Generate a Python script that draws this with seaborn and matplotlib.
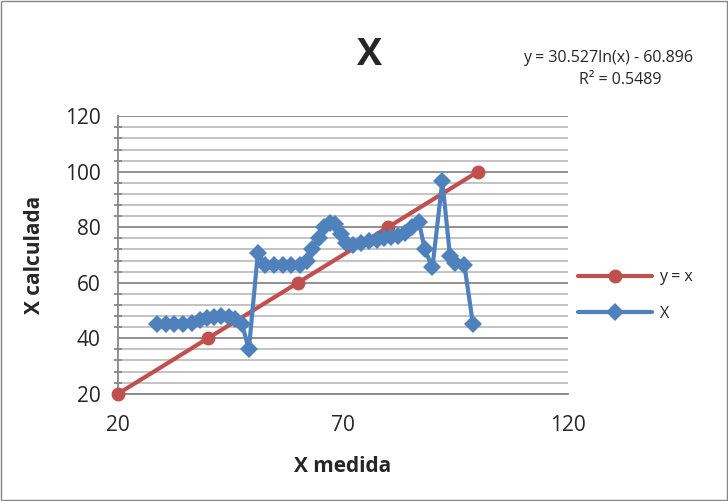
import pandas as pd
import seaborn as sns
import matplotlib.pyplot as plt
from matplotlib.ticker import MultipleLocator

# y = x reference line
ref_x = [20, 40, 60, 80, 100]
ref_y = [20, 40, 60, 80, 100]

# serie X (medida vs calculada)
x_medida = [28.7, 30.6, 32.5, 34.5, 36.4, 38.2, 39.8, 41.4, 43.0, 44.6, 46.1, 47.6,
            49.1, 51.1, 52.7, 54.6, 56.6, 58.5, 60.4, 62.0, 63.2, 64.6, 65.9, 67.1,
            68.3, 69.5, 70.8, 72.3, 74.0, 75.8, 77.5, 79.2, 80.8, 82.3, 83.8, 85.3,
            86.9, 88.2, 89.9, 92.1, 93.8, 95.0, 97.0, 98.9]
x_calculada = [45.3, 45.3, 45.3, 45.3, 45.6, 46.5, 47.2, 47.8, 48.0, 47.8, 46.8, 45.0,
               36.0, 70.7, 66.5, 66.3, 66.3, 66.3, 66.5, 68.0, 72.0, 76.0, 80.0, 81.7,
               81.0, 77.5, 74.5, 73.5, 74.5, 75.0, 75.3, 76.0, 76.5, 77.0, 78.0, 80.0,
               82.0, 72.0, 65.5, 96.6, 69.8, 67.0, 66.5, 45.2]

x_ticks = [20, 70, 120]

df_ref = pd.DataFrame({"medida": ref_x, "calculada": ref_y})
df_x = pd.DataFrame({"medida": x_medida, "calculada": x_calculada})

sns.set_style("white")
plt.rcParams["font.family"] = ["Open Sans", "DejaVu Sans"]

fig = plt.figure(figsize=(7.28, 5.01), dpi=100)
ax = fig.add_axes([0.162, 0.214, 0.618, 0.554])

sns.lineplot(data=df_ref, x="medida", y="calculada", ax=ax, color="#C0504D",
             linewidth=3, marker="o", markersize=10, markeredgewidth=0,
             sort=False, label="y = x", clip_on=False, zorder=3)
sns.lineplot(data=df_x, x="medida", y="calculada", ax=ax, color="#4F81BD",
             linewidth=3, marker="D", markersize=9.5, markeredgewidth=0,
             sort=False, label="X", clip_on=False, zorder=4)

ax.set_xlim(20, 120)
ax.set_ylim(20, 120)
ax.set_xticks(x_ticks)
ax.yaxis.set_major_locator(MultipleLocator(20))
ax.yaxis.set_minor_locator(MultipleLocator(4))
ax.grid(axis="y", which="major", color="#878787", linewidth=1.3)
ax.grid(axis="y", which="minor", color="#BEBEBE", linewidth=1.3)
ax.set_axisbelow(True)

for s in ["top", "right"]:
    ax.spines[s].set_visible(False)
for s in ["left", "bottom"]:
    ax.spines[s].set_color("#878787")
    ax.spines[s].set_linewidth(1.3)

ax.tick_params(axis="y", which="major", direction="inout", length=9, width=1.3,
               color="#878787", labelsize=15, pad=8)
ax.tick_params(axis="y", which="minor", left=True, direction="inout", length=6,
               width=1.3, color="#878787")
ax.tick_params(axis="x", which="major", bottom=False, labelsize=15, pad=12)

ax.set_xlabel("X medida", fontsize=15, fontweight="bold", labelpad=14)
ax.set_ylabel("X calculada", fontsize=15, fontweight="bold", labelpad=14)

fig.text(0.508, 0.89, "X", fontsize=27, fontweight="bold", ha="center", va="center")
fig.text(0.835, 0.885, "y = 30.527ln(x) - 60.896", fontsize=11.5, ha="center", va="center")
fig.text(0.852, 0.84, "R² = 0.5489", fontsize=11.5, ha="center", va="center")

ax.legend_.remove()
h, l = ax.get_legend_handles_labels()
fig.legend(h, l, loc="center left", bbox_to_anchor=(0.794, 0.41), frameon=False,
           fontsize=11.5, handlelength=4.6, handletextpad=0.5, labelspacing=1.3,
           borderaxespad=0, borderpad=0)

fig.patches.append(plt.Rectangle((0.002, 0.002), 0.996, 0.996, transform=fig.transFigure,
                                 fill=False, edgecolor="#868686", linewidth=1))

fig.savefig("out.png", dpi=100)
